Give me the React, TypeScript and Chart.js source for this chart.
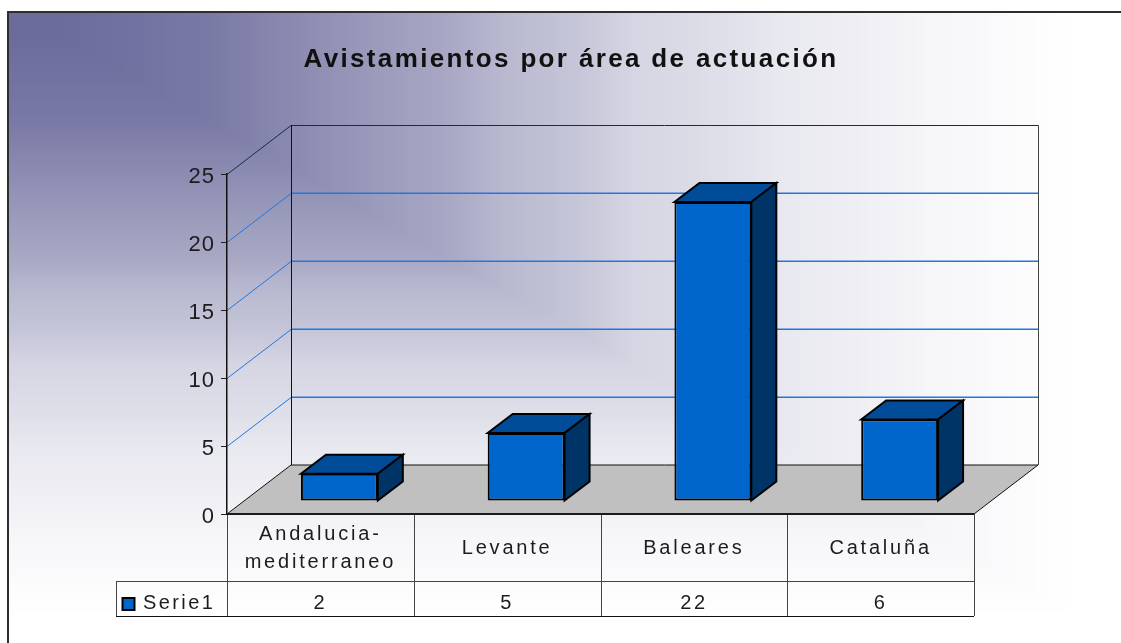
import React, { useEffect, useRef } from "react";
import { Chart, registerables } from "chart.js";

Chart.register(...registerables);

const categories = [["Andalucia-", "mediterraneo"], "Levante", "Baleares", "Cataluña"];
const seriesName = "Serie1";
const values = [2, 5, 22, 6];
const yTicks = [0, 5, 10, 15, 20, 25];
const titleText = "Avistamientos por área de actuación";

const W = 1121, H = 643;
const FRAME = { l: 8, t: 12 };
const DEPTH = { x: 64, y: -49 };
const BAR_SHIFT = { x: 19, y: -13 };
const BAR_DEPTH = { x: 25, y: -19 };
const FONT = "'Liberation Sans', Arial, sans-serif";
const INK = "#1c1c1c";
// background shading: [position along the corner gradient, mix towards white]
const SHADE = [[0, 0], [0.05, 0], [0.19, 0.1], [0.3, 0.27], [0.4, 0.41], [0.45, 0.52], [0.52, 0.62], [0.57, 0.72], [0.65, 0.79], [0.7, 0.85], [0.77, 0.89], [0.83, 0.94], [0.9, 0.97], [0.96, 1], [1, 1]];

const lerp = (a: number, b: number, t: number) => Math.round(a + (b - a) * t);
const shadeAt = (t: number) => {
  for (let i = 1; i < SHADE.length; i++) {
    if (t <= SHADE[i][0]) {
      const [a, ca] = SHADE[i - 1], [b, cb] = SHADE[i];
      return ca + ((cb - ca) * (t - a)) / (b - a);
    }
  }
  return 1;
};

// Wraps a scale's label drawing: own letter spacing and a vertical nudge per label.
const styleLabels = (spacing: string, nudge: (label: any) => number) => (s: any) => {
  s.drawLabels = function (area: any) {
    const ctx = this.ctx;
    const items = this.getLabelItems(area);
    if (!(items as any).__moved) {
      items.forEach((it: any) => {
        const [tx, ty] = it.options.translation;
        it.options.translation = [tx, ty + nudge(it.label)];
      });
      (items as any).__moved = true;
    }
    ctx.save();
    ctx.letterSpacing = spacing;
    Object.getPrototypeOf(this).drawLabels.call(this, area);
    ctx.restore();
  };
};

const scene = {
  id: "scene",
  beforeDraw(chart: any) {
    const { ctx } = chart;
    const x = chart.scales.x, y = chart.scales.y;
    const L = x.left, R = x.right, y0 = y.getPixelForValue(0), yT = y.getPixelForValue(25);
    ctx.save();
    // corner gradient background
    for (let i = 300; i >= 0; i--) {
      const t = i / 300;
      const c = shadeAt(t);
      ctx.fillStyle = `rgb(${lerp(107, 255, c)},${lerp(107, 255, c)},${lerp(156, 255, c)})`;
      ctx.fillRect(FRAME.l, FRAME.t, Math.max(0, W * t - FRAME.l) + 1, Math.max(0, H * t - FRAME.t) + 1);
    }
    // frame
    ctx.fillStyle = "#2e2e2e";
    ctx.fillRect(FRAME.l - 1, FRAME.t - 1, W - FRAME.l + 1, 2);
    ctx.fillRect(FRAME.l - 1, FRAME.t - 1, 2, H - FRAME.t + 1);
    // floor
    ctx.beginPath();
    ctx.moveTo(L, y0);
    ctx.lineTo(L + DEPTH.x, y0 + DEPTH.y);
    ctx.lineTo(R + DEPTH.x, y0 + DEPTH.y);
    ctx.lineTo(R, y0);
    ctx.closePath();
    ctx.fillStyle = "#c0c0c0";
    ctx.fill();
    // grid lines on the two walls
    for (const v of yTicks) {
      if (v === 0) continue;
      const p = Math.round(y.getPixelForValue(v));
      const blue = v !== 25;
      ctx.strokeStyle = blue ? "#1f78e0" : "#1a2b44";
      ctx.lineWidth = 1;
      ctx.beginPath();
      ctx.moveTo(L, p + 0.5);
      ctx.lineTo(L + DEPTH.x, p + 0.5 + DEPTH.y);
      ctx.stroke();
      ctx.lineWidth = blue ? 1.4 : 1;
      ctx.beginPath();
      ctx.moveTo(L + DEPTH.x, p + (blue ? 0.3 : 0.5) + DEPTH.y);
      ctx.lineTo(R + DEPTH.x, p + (blue ? 0.3 : 0.5) + DEPTH.y);
      ctx.stroke();
    }
    // wall and floor edges
    ctx.lineWidth = 1;
    ctx.strokeStyle = "#111";
    ctx.beginPath();
    ctx.moveTo(L, y0);
    ctx.lineTo(L + DEPTH.x, y0 + DEPTH.y);
    ctx.lineTo(R + DEPTH.x, y0 + DEPTH.y);
    ctx.lineTo(R, y0);
    ctx.stroke();
    ctx.beginPath();
    ctx.moveTo(L + DEPTH.x + 0.5, y0 + DEPTH.y);
    ctx.lineTo(L + DEPTH.x + 0.5, yT + DEPTH.y);
    ctx.stroke();
    ctx.strokeStyle = "#444";
    ctx.beginPath();
    ctx.moveTo(R + DEPTH.x + 0.5, y0 + DEPTH.y);
    ctx.lineTo(R + DEPTH.x + 0.5, yT + DEPTH.y);
    ctx.stroke();
    ctx.restore();
    // spacing used by the title, which draws next
    ctx.letterSpacing = "2.35px";
  },
  beforeDatasetsDraw(chart: any) {
    chart.ctx.letterSpacing = "0px";
  },
  beforeDatasetDraw(chart: any) {
    chart.ctx.save();
    chart.ctx.translate(BAR_SHIFT.x, BAR_SHIFT.y);
  },
  afterDatasetDraw(chart: any, args: any) {
    const { ctx } = chart;
    const meta = chart.getDatasetMeta(args.index);
    meta.data.forEach((bar: any) => {
      const l = bar.x - bar.width / 2, r = bar.x + bar.width / 2;
      const top = bar.y, base = bar.base;
      ctx.lineWidth = 2;
      ctx.lineJoin = "miter";
      ctx.strokeStyle = "#000";
      ctx.fillStyle = "#004c99";
      ctx.beginPath();
      ctx.moveTo(l, top);
      ctx.lineTo(l + BAR_DEPTH.x, top + BAR_DEPTH.y);
      ctx.lineTo(r + BAR_DEPTH.x, top + BAR_DEPTH.y);
      ctx.lineTo(r, top);
      ctx.closePath();
      ctx.fill();
      ctx.stroke();
      ctx.fillStyle = "#003366";
      ctx.beginPath();
      ctx.moveTo(r, top);
      ctx.lineTo(r + BAR_DEPTH.x, top + BAR_DEPTH.y);
      ctx.lineTo(r + BAR_DEPTH.x, base + BAR_DEPTH.y);
      ctx.lineTo(r, base);
      ctx.closePath();
      ctx.fill();
      ctx.stroke();
    });
    ctx.restore();
  },
  afterDraw(chart: any) {
    const { ctx } = chart;
    const x = chart.scales.x, y = chart.scales.y;
    const y0 = Math.round(y.getPixelForValue(0));
    const r1 = 581, r2 = 616, leftCell = 116;
    const half = (x.getPixelForValue(1) - x.getPixelForValue(0)) / 2;
    const edges = [x.left, ...values.map((_, i) => x.getPixelForValue(i) + half)];
    ctx.save();
    // table rules
    ctx.lineWidth = 1;
    ctx.strokeStyle = "#444";
    ctx.beginPath();
    edges.forEach((e: number) => {
      const p = Math.round(e) + 0.5;
      ctx.moveTo(p, y0);
      ctx.lineTo(p, r2);
    });
    ctx.moveTo(leftCell + 0.5, r1);
    ctx.lineTo(leftCell + 0.5, r2);
    ctx.moveTo(leftCell, r1 + 0.5);
    ctx.lineTo(x.right, r1 + 0.5);
    ctx.stroke();
    ctx.strokeStyle = "#111";
    ctx.beginPath();
    ctx.moveTo(leftCell, r2 + 0.5);
    ctx.lineTo(x.right, r2 + 0.5);
    ctx.stroke();
    // front floor edge
    ctx.fillStyle = "#1a1a1a";
    ctx.fillRect(x.left, y0 - 1, x.right - x.left, 2);
    // legend key
    ctx.fillStyle = "#0066cc";
    ctx.strokeStyle = "#000";
    ctx.lineWidth = 2;
    ctx.fillRect(122.5, 598, 12, 12);
    ctx.strokeRect(122.5, 598, 12, 12);
    // data row
    ctx.letterSpacing = "2.4px";
    ctx.font = `20px ${FONT}`;
    ctx.fillStyle = INK;
    ctx.textBaseline = "middle";
    ctx.textAlign = "left";
    ctx.fillText(seriesName, 143, 603);
    ctx.textAlign = "center";
    values.forEach((v, i) => ctx.fillText(String(v), x.getPixelForValue(i), 603));
    ctx.restore();
    ctx.letterSpacing = "0px";
  },
};

export default function App() {
  const ref = useRef<HTMLCanvasElement>(null);
  useEffect(() => {
    const chart = new Chart(ref.current!, {
      type: "bar",
      plugins: [scene],
      data: {
        labels: categories as any,
        datasets: [
          {
            label: seriesName,
            data: values,
            backgroundColor: "#0066cc",
            borderColor: "#000",
            borderWidth: 2,
            borderSkipped: false,
            barPercentage: 1,
            categoryPercentage: 77 / 187,
            clip: false as any,
          },
        ],
      },
      options: {
        responsive: false,
        animation: false,
        devicePixelRatio: 1,
        layout: { padding: { left: 168, right: 147, top: 0, bottom: 0 } },
        plugins: {
          legend: { display: false },
          tooltip: { enabled: false },
          title: {
            display: true,
            text: titleText,
            color: "#111",
            font: { family: FONT, size: 26, weight: "bold" },
            padding: { top: 44, bottom: 99 },
          },
        },
        scales: {
          x: {
            grid: { display: false },
            border: { display: false },
            ticks: {
              color: INK,
              font: { family: FONT, size: 20, lineHeight: 1.4 },
              padding: 5,
              maxRotation: 0,
              autoSkip: false,
            },
            afterFit: (s: any) => {
              s.height = 129;
              styleLabels("2.8px", (label) => (Array.isArray(label) ? -7 : 7))(s);
            },
          },
          y: {
            min: 0,
            max: 25,
            grid: { drawOnChartArea: false, color: "#222", tickLength: 6 },
            border: { color: "#111", width: 1.5 },
            ticks: {
              stepSize: 5,
              color: INK,
              font: { family: FONT, size: 22 },
              padding: 6,
            },
            afterFit: (s: any) => {
              s.width = 59;
              styleLabels("1px", () => 3)(s);
            },
          },
        },
      },
    } as any);
    return () => chart.destroy();
  }, []);
  return (
    <canvas
      ref={ref}
      width={W}
      height={H}
      style={{ position: "absolute", left: 0, top: 0, width: W, height: H }}
    />
  );
}
